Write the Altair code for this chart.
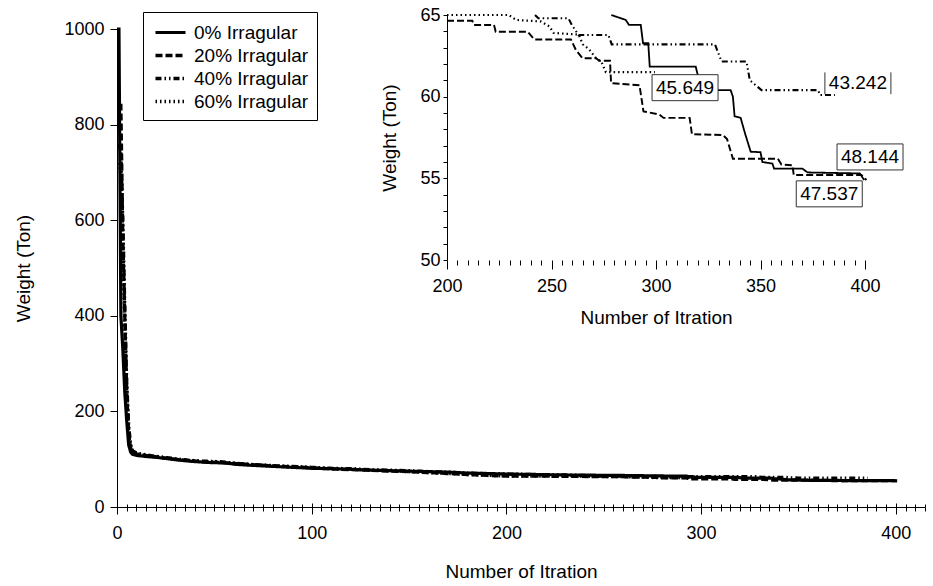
import altair as alt
import pandas as pd

FONT = "Liberation Sans"
SERIES = ["0% Irragular", "20% Irragular", "40% Irragular", "60% Irragular"]

# (iteration, weight)
S0 = [(0, 1000), (1, 1000), (1.5, 700), (2, 400), (3, 330), (4, 240), (5, 180), (6, 130), (7, 115),
      (8, 110), (10, 108), (14, 106), (20, 104), (26, 101), (32, 98), (40, 95), (48, 93), (56, 92),
      (62, 89), (70, 87), (80, 85), (90, 83), (100, 81), (110, 80), (120, 79), (130, 77), (140, 76),
      (150, 75), (160, 74), (170, 73), (180, 71), (190, 70), (200, 69), (215, 68), (230, 67),
      (245, 66.5), (260, 66), (278.6, 65.0), (285.5, 64.7), (287.1, 64.39), (292.7, 64.39),
      (293.8, 63.27), (296.3, 63.27), (297, 61.84), (319, 61.84), (320.6, 61.0), (323.8, 60.4),
      (335.7, 60.4), (336.8, 60.0), (337.6, 58.8), (340.5, 58.7), (342.6, 57.75), (345.3, 56.63),
      (350, 56.6), (350.9, 56.0), (355.7, 55.9), (356.5, 55.6), (370, 55.6), (372.5, 55.36),
      (397.5, 55.3), (399.6, 54.9)]

S20 = [(1, 840), (2, 840), (2.5, 700), (3, 560), (4, 400), (5, 240), (6, 150), (7, 124), (8, 113),
       (10, 111), (16, 107), (22, 104), (30, 100), (38, 97), (46, 94), (54, 93), (60, 91), (68, 89),
       (76, 87), (84, 85), (92, 84), (100, 82), (110, 80), (120, 78), (130, 77), (140, 75), (150, 74),
       (160, 72), (170, 70), (180, 68), (190, 66), (200, 64.65), (212.1, 64.65), (212.9, 64.39),
       (222.5, 64.39), (223.3, 63.98), (238.6, 63.98), (241.8, 63.5), (259.3, 63.5), (261.7, 62.85),
       (264.9, 62.35), (271.3, 62.35), (272.9, 62.2), (278, 62.2), (278.5, 60.83), (292.1, 60.7),
       (294, 59.1), (301.7, 58.9), (303.6, 58.7), (316.1, 58.7), (317.2, 57.7), (332, 57.65),
       (334, 57.4), (336.8, 56.2), (358.3, 56.2), (360, 55.85), (365.3, 55.8), (365.9, 55.2),
       (398.3, 55.2), (400.7, 54.9)]

S40 = [(1, 760), (2, 740), (3, 600), (4, 420), (5, 260), (6, 170), (7, 130), (8, 118), (10, 113),
       (15, 109), (20, 106), (28, 102), (36, 98), (44, 96), (52, 95), (60, 92), (66, 90), (74, 88),
       (82, 86), (90, 85), (100, 83), (110, 81), (120, 80), (130, 78), (140, 77), (150, 76),
       (160, 74), (170, 73), (180, 71), (190, 70), (200, 69), (215, 68), (230, 67), (240, 66),
       (242.1, 65.0), (243.7, 64.8), (258.1, 64.8), (259.7, 64.4), (262.9, 63.78), (277.2, 63.78),
       (278.8, 63.2), (328.2, 63.2), (331.4, 62.15), (343.3, 62.15), (344.9, 61.0), (350.5, 60.4),
       (377.6, 60.4), (378.4, 60.1), (385.6, 60.1)]

S60 = [(1, 720), (2, 700), (3, 560), (4, 380), (5, 250), (6, 160), (7, 128), (8, 116), (10, 112),
       (15, 108), (20, 105), (28, 101), (36, 97), (44, 95), (52, 94), (60, 91), (70, 88), (80, 86),
       (90, 84), (100, 82), (110, 80), (120, 79), (130, 77), (140, 76), (150, 74), (160, 72),
       (170, 70), (180, 68), (190, 66.5), (200, 65.0), (229.6, 65.0), (233, 64.7), (245, 64.6),
       (249, 64.3), (251, 63.9), (263, 63.8), (265, 63.2), (268, 62.9), (271, 62.4), (274, 62.1),
       (276, 61.5), (299.5, 61.5)]

ANN_TEXT = ["45.649", "43.242", "48.144", "47.537"]
ANN_ITER = [313.9, 396.6, 402.4, 382.9]
ANN_W = [60.55, 60.82, 56.31, 54.05]
ANN_FRAME = ["box", "bars", "box", "box"]

MAIN_X_TICKS = list(range(0, 416, 5))
MAIN_Y_TICKS = [0, 200, 400, 600, 800, 1000]
INSET_X_TICKS = list(range(200, 401, 5))
INSET_Y_TICKS = list(range(50, 66))

# styles
DASHES = [[1, 0], [7, 3], [6, 3, 1.5, 3, 1.5, 3], [1.5, 3]]
MAIN_WIDTHS = [3.2, 3.4, 2.4, 2.6]
INSET_WIDTHS = [1.8, 2.2, 1.3, 1.6]
BOX_PATH = "M-1,-0.394L1,-0.394L1,0.394L-1,0.394Z"
BARS_PATH = "M-1,-0.33L-1,0.33M1,-0.33L1,0.33"

rows = []
for name, pts in zip(SERIES, [S0, S20, S40, S60]):
    for i, (it, w) in enumerate(pts):
        rows.append({"series": name, "iter": it, "w": w, "k": i})
df = pd.DataFrame(rows)
inset_df = df[(df["iter"] >= 200) & (df["w"] <= 65.001)]
ann = pd.DataFrame({"label": ANN_TEXT, "iter": ANN_ITER, "w": ANN_W, "frame": ANN_FRAME})

dash_scale = alt.Scale(domain=SERIES, range=DASHES)

main_x_scale = alt.Scale(domain=[0, 415], nice=False, zero=False)
main_y_scale = alt.Scale(domain=[0, 1000], range=[497, 19], nice=False)
in_x_scale = alt.Scale(domain=[200, 400], range=[330, 748], nice=False, zero=False)
in_y_scale = alt.Scale(domain=[50, 65], range=[250, 5], nice=False, zero=False)

legend = alt.Legend(
    title=None, orient="none", legendX=26, legendY=2, direction="vertical",
    strokeColor="black", fillColor="white", padding=8, cornerRadius=0,
    symbolType="M-1.43,0H1.43", symbolSize=441, symbolStrokeColor="black",
    symbolOffset=7, labelOffset=11, rowPadding=0,
    labelFont=FONT, labelFontSize=19, labelColor="black",
)

main = alt.Chart(df).mark_line(color="black").encode(
    x=alt.X("iter:Q", scale=main_x_scale, axis=alt.Axis(
        orient="bottom", values=MAIN_X_TICKS, format="d",
        labelExpr="datum.value % 100 === 0 ? datum.label : ''",
        tickSize={"condition": {"test": "datum.value % 100 === 0", "value": 7}, "value": 4},
        labelPadding=10, labelOverlap=False, labelFlush=False,
        title="Number of Itration", titlePadding=20, grid=False)),
    y=alt.Y("w:Q", scale=main_y_scale, axis=alt.Axis(
        orient="left", values=MAIN_Y_TICKS, format="d", tickSize=7, labelPadding=6,
        labelOverlap=False, title="Weight (Ton)", titlePadding=30, grid=False)),
    strokeDash=alt.StrokeDash("series:N", scale=dash_scale, legend=legend),
    strokeWidth=alt.StrokeWidth("series:N", scale=alt.Scale(domain=SERIES, range=MAIN_WIDTHS),
                                legend=legend),
    detail="series:N",
    order="k:Q",
)

# upward half of the crossing ticks on the main x axis
cross_ticks = alt.Chart(df).mark_line(opacity=0).encode(
    x=alt.X("iter:Q", scale=main_x_scale, axis=alt.Axis(
        orient="top", offset=-497, values=MAIN_X_TICKS, labels=False, domain=False,
        tickSize={"condition": {"test": "datum.value % 100 === 0", "value": 4}, "value": 3},
        title=None, grid=False)),
    y=alt.Y("w:Q", scale=main_y_scale, axis=None),
    detail="series:N",
)

inset = alt.Chart(inset_df).mark_line(color="black").encode(
    x=alt.X("iter:Q", scale=in_x_scale, axis=alt.Axis(
        orient="bottom", offset=-247, values=INSET_X_TICKS, format="d",
        labelExpr="datum.value % 50 === 0 ? datum.label : ''",
        tickSize={"condition": {"test": "datum.value % 50 === 0", "value": 9}, "value": 5},
        domain=False, labelPadding=8, labelOverlap=False, labelFlush=False,
        title="Number of Itration", titlePadding=13, grid=False)),
    y=alt.Y("w:Q", scale=in_y_scale, axis=alt.Axis(
        orient="left", offset=-330, values=INSET_Y_TICKS, format="d",
        labelExpr="datum.value % 5 === 0 ? datum.label : ''",
        tickSize=4, labelPadding=3, labelOverlap=False,
        title="Weight (Ton)", titlePadding=20, grid=False)),
    strokeDash=alt.StrokeDash("series:N", scale=dash_scale, legend=None),
    strokeWidth=alt.StrokeWidth("series:N", scale=alt.Scale(domain=SERIES, range=INSET_WIDTHS),
                                legend=None),
    detail="series:N",
    order="k:Q",
)

boxes = alt.Chart(ann).mark_point(filled=True, fill="white", stroke="#333333",
                                  strokeWidth=1, opacity=1, size=4356).encode(
    x=alt.X("iter:Q", scale=in_x_scale, axis=None),
    y=alt.Y("w:Q", scale=in_y_scale, axis=None),
    shape=alt.Shape("frame:N", scale=alt.Scale(domain=["box", "bars"], range=[BOX_PATH, BARS_PATH]),
                    legend=None),
)

texts = alt.Chart(ann).mark_text(font=FONT, fontSize=19, color="black",
                                 align="center", baseline="middle").encode(
    x=alt.X("iter:Q", scale=in_x_scale, axis=None),
    y=alt.Y("w:Q", scale=in_y_scale, axis=None),
    text="label:N",
)

chart = alt.layer(main, cross_ticks, inset, boxes, texts).resolve_scale(
    x="independent", y="independent", strokeDash="independent", strokeWidth="independent"
).resolve_axis(x="independent", y="independent").resolve_legend(
    strokeDash="independent", strokeWidth="independent"
).properties(
    width=808, height=497,
    padding={"left": 117, "top": 10, "right": 8, "bottom": 79},
    autosize=alt.AutoSizeParams(type="none"),
).configure_view(stroke=None).configure_axis(
    labelFont=FONT, titleFont=FONT, labelFontSize=18, titleFontSize=19,
    titleFontWeight="normal", labelColor="black", titleColor="black",
    domainColor="black", tickColor="black", domainWidth=1, tickWidth=1,
)

chart.save("out.html", embed_options={"renderer": "svg", "actions": False})
